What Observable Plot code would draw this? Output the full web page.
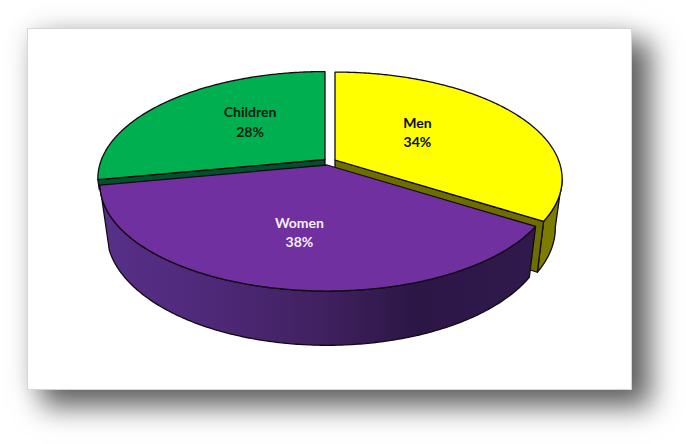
<!DOCTYPE html>
<html>
<head>
<meta charset="utf-8">
<script src="https://cdn.jsdelivr.net/npm/d3@7"></script>
<script src="https://cdn.jsdelivr.net/npm/@observablehq/plot@0.6"></script>
<style>
  html, body { margin: 0; padding: 0; background: #fff; overflow: hidden; }
  #stage { position: relative; width: 686px; height: 444px; overflow: hidden; }
  #panel { position: absolute; left: 27px; top: 28px; width: 603px; height: 360px; background: #fff;
    border: 1px solid #d6d6d6;
    box-shadow: 17px 15px 26px 2px rgba(0,0,0,.6), 0 0 24px rgba(0,0,0,.1); }
  #chart { position: absolute; left: 0; top: 0; }
</style>
</head>
<body>
<div id="stage"><div id="panel"></div><div id="chart"></div></div>
<script>
// Data
const categories = ["Men", "Women", "Children"];
const shares = [34, 38, 28];

// Styles
const topFills = ["#ffff00", "#7030a0", "#00b050"];
const cutFills = ["#6e6e00", "#301a4a", "#00522d"];
const labelColors = ["#0b0b00", "#f6effb", "#03200f"];

// Layout of the tilted disc
const apexes = [[335, 160], [327, 165], [325, 159.5]];
const radiusX = 223.5, radiusY = 103.6, perspective = 0.178, thickness = 47.7, shrink = 0.03;
const labelPlacement = [[0.5, -12, -5], [0.6, 0, -2.5], [0.5, 6, -8]]; // radius, dx, dy

const total = d3.sum(shares);
let running = 0;
const slices = categories.map((name, i) => {
  const a0 = running / total * 2 * Math.PI;
  running += shares[i];
  const a1 = running / total * 2 * Math.PI;
  return {name, share: shares[i], a0, a1, apex: apexes[i], i};
});

function project(apex, angle, r, z) {
  const X = Math.sin(angle) * r, Y = -Math.cos(angle) * r;
  const s = 1 / (1 - perspective * Y);
  const k = 1 - shrink * z;
  return [apex[0] + radiusX * X * s * k, apex[1] + radiusY * Y * s * k + thickness * z * s];
}
function sweep(a0, a1) {
  const n = Math.max(2, Math.ceil(Math.abs(a1 - a0) / 0.01));
  return d3.range(n + 1).map(j => a0 + (a1 - a0) * j / n);
}
const band = (pairs) => pairs.map(([p, q]) => ({x1: p[0], y1: p[1], x2: q[0], y2: q[1]}));

function topFace(s) {
  return band(sweep(s.a0, s.a1).map(a => [s.apex, project(s.apex, a, 1, 0)]));
}
function wall(s, a0, a1, bottomEnd = a1) {
  return band(sweep(a0, a1).map(a => [project(s.apex, a, 1, 0), project(s.apex, Math.min(a, bottomEnd), 1, 1)]));
}
function cutFace(s, a, depth = 1) {
  return band([
    [project(s.apex, a, 0, 0), project(s.apex, a, 0, depth)],
    [project(s.apex, a, 1, 0), project(s.apex, a, 1, depth)]
  ]);
}

const [men, women, children] = slices;
const edge = {stroke: "#120a12", strokeWidth: 1.3, strokeLinejoin: "round"};
const face = (rows, fill) => Plot.area(rows, {x1: "x1", y1: "y1", x2: "x2", y2: "y2", fill, ...edge});

function shadeDefs() {
  const g = d3.create("svg:linearGradient")
    .attr("id", "wallShade").attr("gradientUnits", "userSpaceOnUse")
    .attr("x1", 100).attr("x2", 535).attr("y1", 0).attr("y2", 0);
  [[0, "#583089"], [0.25, "#4e2979"], [0.5, "#412160"], [0.72, "#2c1646"], [1, "#30194c"]]
    .forEach(([o, c]) => g.append("stop").attr("offset", o).attr("stop-color", c));
  const defs = d3.create("svg:defs");
  defs.node().appendChild(g.node());
  return defs.node();
}

const labelMarks = slices.map((s, i) => {
  const [r, dx, dy] = labelPlacement[i];
  const p = project(s.apex, (s.a0 + s.a1) / 2, r, 0);
  return Plot.text([{x: p[0], y: p[1], t: `${s.name}\n${s.share}%`}], {
    x: "x", y: "y", text: "t", dx, dy, fill: labelColors[i],
    fontFamily: "Lato", fontWeight: 700, fontSize: 14, lineHeight: 1.38,
    textAnchor: "middle", lineAnchor: "middle"
  });
});

const plot = Plot.plot({
  width: 686, height: 444, margin: 0,
  style: {background: "transparent"},
  x: {domain: [0, 686], range: [0, 686], axis: null},
  y: {domain: [0, 444], range: [0, 444], axis: null},
  marks: [
    shadeDefs,
    face(cutFace(children, children.a0, 0.2), cutFills[2]),
    face(topFace(children), topFills[2]),
    face(wall(men, 100 * Math.PI / 180, men.a1), "#7c7c00"),
    face(cutFace(men, men.a1), cutFills[0]),
    face(topFace(men), topFills[0]),
    face(wall(women, women.a0, women.a1, women.a1 - 0.14), "url(#wallShade)"),
    face(topFace(women), topFills[1]),
    ...labelMarks
  ]
});
document.getElementById("chart").appendChild(plot);
</script>
</body>
</html>
